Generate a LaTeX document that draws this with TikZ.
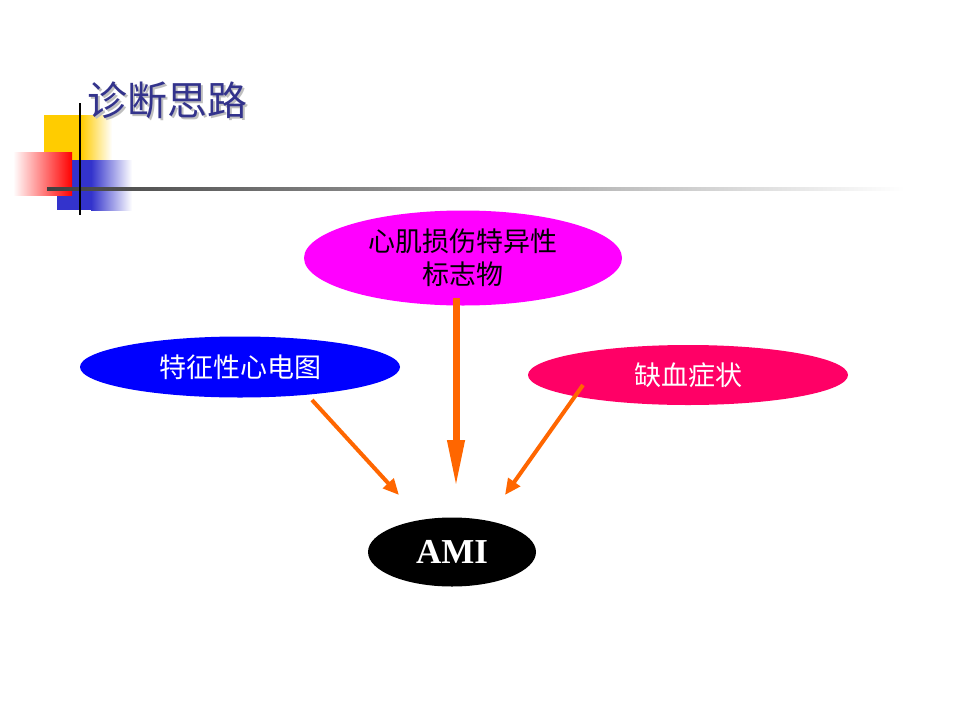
\documentclass[tikz,border=0pt]{standalone}
\usepackage{fontspec}
\setmainfont{Liberation Serif}
\newfontfamily\cjk{Noto Sans CJK SC}
\usetikzlibrary{shapes.geometric,arrows.meta}
\definecolor{titleblue}{RGB}{51,51,140}
\definecolor{arroworange}{RGB}{255,102,0}
\definecolor{hotpink}{RGB}{255,0,102}
\definecolor{brightmagenta}{RGB}{255,0,255}
\definecolor{gold}{RGB}{255,204,0}
\definecolor{royal}{RGB}{51,51,204}
\tikzset{
  oval/.style={ellipse, inner sep=0pt, font=\cjk\fontsize{27}{33}\selectfont, align=center},
  feed/.style={arroworange, line width=4pt, -{Triangle[length=16pt,width=14pt]}},
  mainfeed/.style={arroworange, line width=7pt, -{Triangle[length=48pt,width=16pt]}}
}

\begin{document}
\begin{tikzpicture}[x=1pt,y=-1pt]
\useasboundingbox[fill=white] (0,0) rectangle (960,720);
% decoration at top left
\fill[gold] (44,115) rectangle (82,160);
\shade[left color=gold, right color=white] (81,115) rectangle (112,160);
\fill[royal] (57,160) rectangle (92,210);
\shade[left color=royal, right color=white] (91,160) rectangle (132,210);
\shade[left color=white, right color=red] (13,152) rectangle (72,195);
\shade[left color=black!75, right color=white] (47,187) rectangle (905,190);
\draw[black, line width=2.5pt] (80,103) -- (80,215);
% title
\node[text=black!25, font=\cjk\fontsize{40}{48}\selectfont, anchor=west] at (86,102) {诊断思路};
\node[text=titleblue, font=\cjk\fontsize{40}{48}\selectfont, anchor=west] (title) at (84,100) {诊断思路};

\node[oval, fill=brightmagenta, minimum width=318pt, minimum height=95pt] (marker) at (463,258) {心肌损伤特异性\\标志物};
\node[oval, fill=blue, text=white, minimum width=320pt, minimum height=61pt] (ecg) at (240,367) {特征性心电图};
\node[oval, fill=hotpink, text=white, minimum width=320pt, minimum height=60pt] (pain) at (688,375) {缺血症状};
\node[ellipse, fill=black, text=white, inner sep=0pt, minimum width=168pt, minimum height=69pt,
  font=\bfseries\fontsize{35}{40}\selectfont] (ami) at (452,552) {AMI};

\coordinate (a1) at (456,298);
\coordinate (a2) at (312,400);
\coordinate (a3) at (583,385);
\coordinate (b1) at (456,488);
\coordinate (b2) at (399,495);
\coordinate (b3) at (505,495);
\draw[mainfeed] (a1) -- (b1);
\draw[feed] (a2) -- (b2);
\draw[feed] (a3) -- (b3);
\end{tikzpicture}
\end{document}
